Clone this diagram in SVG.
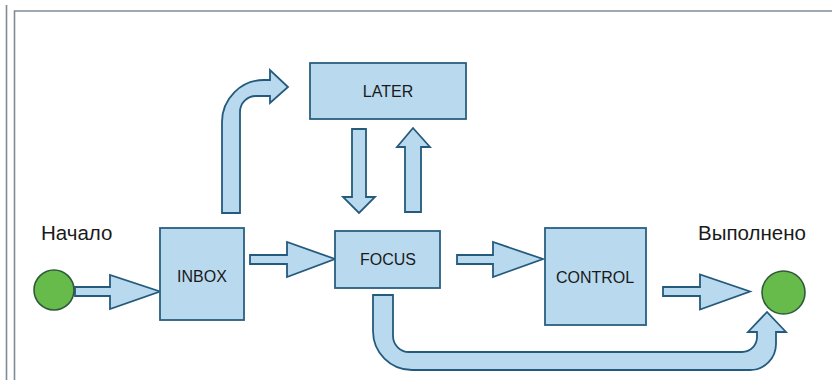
<svg xmlns="http://www.w3.org/2000/svg" width="832" height="380" viewBox="0 0 832 380">
<style>
.frame{fill:none;stroke:#7d8c96;stroke-width:1.6}
.box{fill:#b9d9ee;stroke:#2a5f80;stroke-width:1.8}
.arr{fill:#b9d9ee;stroke:#245a7c;stroke-width:1.8;stroke-linejoin:miter}
.dot{fill:#66bb4a;stroke:#2f5a3a;stroke-width:1.6}
.lbl{font-family:"Liberation Sans",Arial,sans-serif;font-size:16px;fill:#1a1a1a;text-anchor:middle}
.cap{font-family:"Liberation Sans",Arial,sans-serif;font-size:20.5px;fill:#1a1a1a}
</style>
<rect width="832" height="380" fill="#ffffff"/>
<g id="frame">
<line class="frame" x1="6.5" y1="5" x2="6.5" y2="380"/>
<polyline class="frame" points="14.5,380 14.5,11 832,11"/>
</g>
<g id="connectors">
<path class="arr" d="M222,213 L222,122 A42,42 0 0 1 264,80 L270,80 L270,70 L288,87 L270,103 L270,96 L256,96 A16,16 0 0 0 240,112 L240,213 Z"/>
<path class="arr" d="M352,129 L366,129 L366,197 L375,197 L359,213 L343,197 L352,197 Z"/>
<path class="arr" d="M405,212 L421,212 L421,147 L430,147 L413,128 L397,147 L405,147 Z"/>
<path class="arr" d="M75,287 L110,287 L110,275 L160,291.5 L110,309 L110,296 L75,296 Z"/>
<path class="arr" d="M250,255 L287,255 L287,242 L335,259 L287,277 L287,264 L250,264 Z"/>
<path class="arr" d="M457,255 L493,255 L493,242 L543,259 L493,277 L493,264 L457,264 Z"/>
<path class="arr" d="M663,287 L700,287 L700,274.5 L750,291.5 L700,309.5 L700,296 L663,296 Z"/>
<path class="arr" d="M373,295 L393,295 L393,336 A16,16 0 0 0 409,352 L742,352 A15,15 0 0 0 757,337 L757,332 L748,332 L767,312 L786,332 L776,332 L776,344 A26,26 0 0 1 750,370 L412,370 A39,39 0 0 1 373,331 Z"/>
</g>
<g id="later">
<rect class="box" x="310" y="63" width="156" height="56"/>
<text class="lbl" x="388" y="97">LATER</text>
</g>
<g id="inbox">
<rect class="box" x="160" y="228" width="84" height="92"/>
<text class="lbl" x="202" y="281.5">INBOX</text>
</g>
<g id="focus">
<rect class="box" x="335" y="231" width="105" height="57"/>
<text class="lbl" x="388" y="265">FOCUS</text>
</g>
<g id="control">
<rect class="box" x="545" y="228" width="101" height="97"/>
<text class="lbl" x="595" y="283">CONTROL</text>
</g>
<g id="start">
<circle class="dot" cx="54" cy="290" r="20"/>
<text class="cap" x="41" y="240">Начало</text>
</g>
<g id="done">
<circle class="dot" cx="783.5" cy="292.5" r="21.5"/>
<text class="cap" x="698" y="240">Выполнено</text>
</g>
</svg>
